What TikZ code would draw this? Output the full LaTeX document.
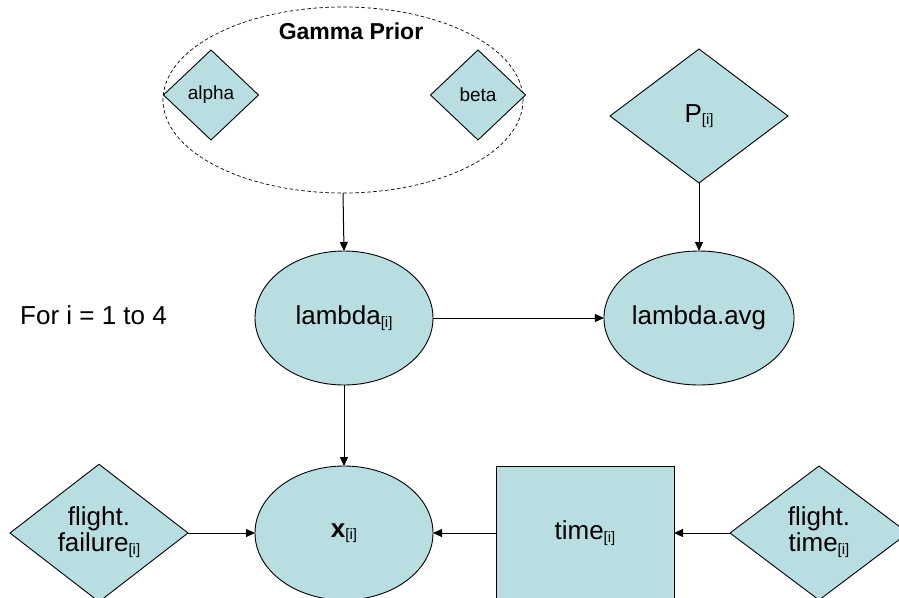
\documentclass[tikz,border=0pt]{standalone}
\usepackage{fontspec}
\setmainfont{Liberation Sans}
\usetikzlibrary{shapes.geometric,arrows.meta}
\definecolor{nodefill}{RGB}{185,222,226}
\newcommand{\sbi}{\raisebox{-2.5pt}{\fontsize{15}{16}\selectfont[i]}}
\tikzset{
  base/.style={draw=black, fill=nodefill, line width=0.9pt, inner sep=0pt, outer sep=0pt,
    font=\fontsize{26}{29}\selectfont, align=center},
  ell/.style={base, ellipse, minimum width=178pt, minimum height=134pt},
  dia/.style={base, diamond, minimum width=178pt, minimum height=134pt},
  smalldia/.style={base, diamond, minimum width=95pt, minimum height=90pt, font=\fontsize{19}{22}\selectfont},
  box/.style={base, rectangle, minimum width=178pt, minimum height=134pt},
  arr/.style={draw=black, line width=1pt, -{Triangle[length=9pt,width=8pt]}},
}
\begin{document}
\begin{tikzpicture}[x=1pt,y=-1pt]
\useasboundingbox (0,0) rectangle (899,597);
% Gamma prior group
\node[ellipse, draw=black, dash pattern=on 3.5pt off 2.5pt, line width=0.7pt, minimum width=360pt, minimum height=186pt, inner sep=0pt, outer sep=0pt] (prior) at (343,100) {};
\node[font=\bfseries\fontsize{23}{26}\selectfont] (gtitle) at (351,31) {Gamma Prior};
\node[smalldia] (alpha) at (211,95) {alpha};
\node[smalldia] (beta) at (478,95) {beta};
% P
\node[dia] (P) at (699,116) {P\sbi};
% lambdas
\node[ell] (lam) at (344,318) {lambda\sbi};
\node[ell] (lavg) at (699,318) {lambda.avg};
% bottom row
\node[ell] (x) at (344,533) {\textbf{x}\sbi};
\node[box] (time) at (585,533) {time\sbi};
\node[dia] (ff) at (99,533) {\raisebox{-4pt}{\begin{tabular}{@{}c@{}}flight.\\[-3pt]failure\sbi\end{tabular}}};
\node[dia] (ft) at (819,533) {\raisebox{-4pt}{\begin{tabular}{@{}c@{}}flight.\\[-3pt]time\sbi\end{tabular}}};
% loop label
\node[anchor=west, font=\fontsize{26}{29}\selectfont, inner sep=0pt] (loop) at (20,315) {For i = 1 to 4};
% connectors
\draw[arr] (prior.south) -- (lam.north);
\draw[arr] (P.south) -- (lavg.north);
\draw[arr] (lam.east) -- (lavg.west);
\draw[arr] (lam.south) -- (x.north);
\draw[arr] (ff.east) -- (x.west);
\draw[arr] (time.west) -- (x.east);
\draw[arr] (ft.west) -- (time.east);
\end{tikzpicture}
\end{document}
